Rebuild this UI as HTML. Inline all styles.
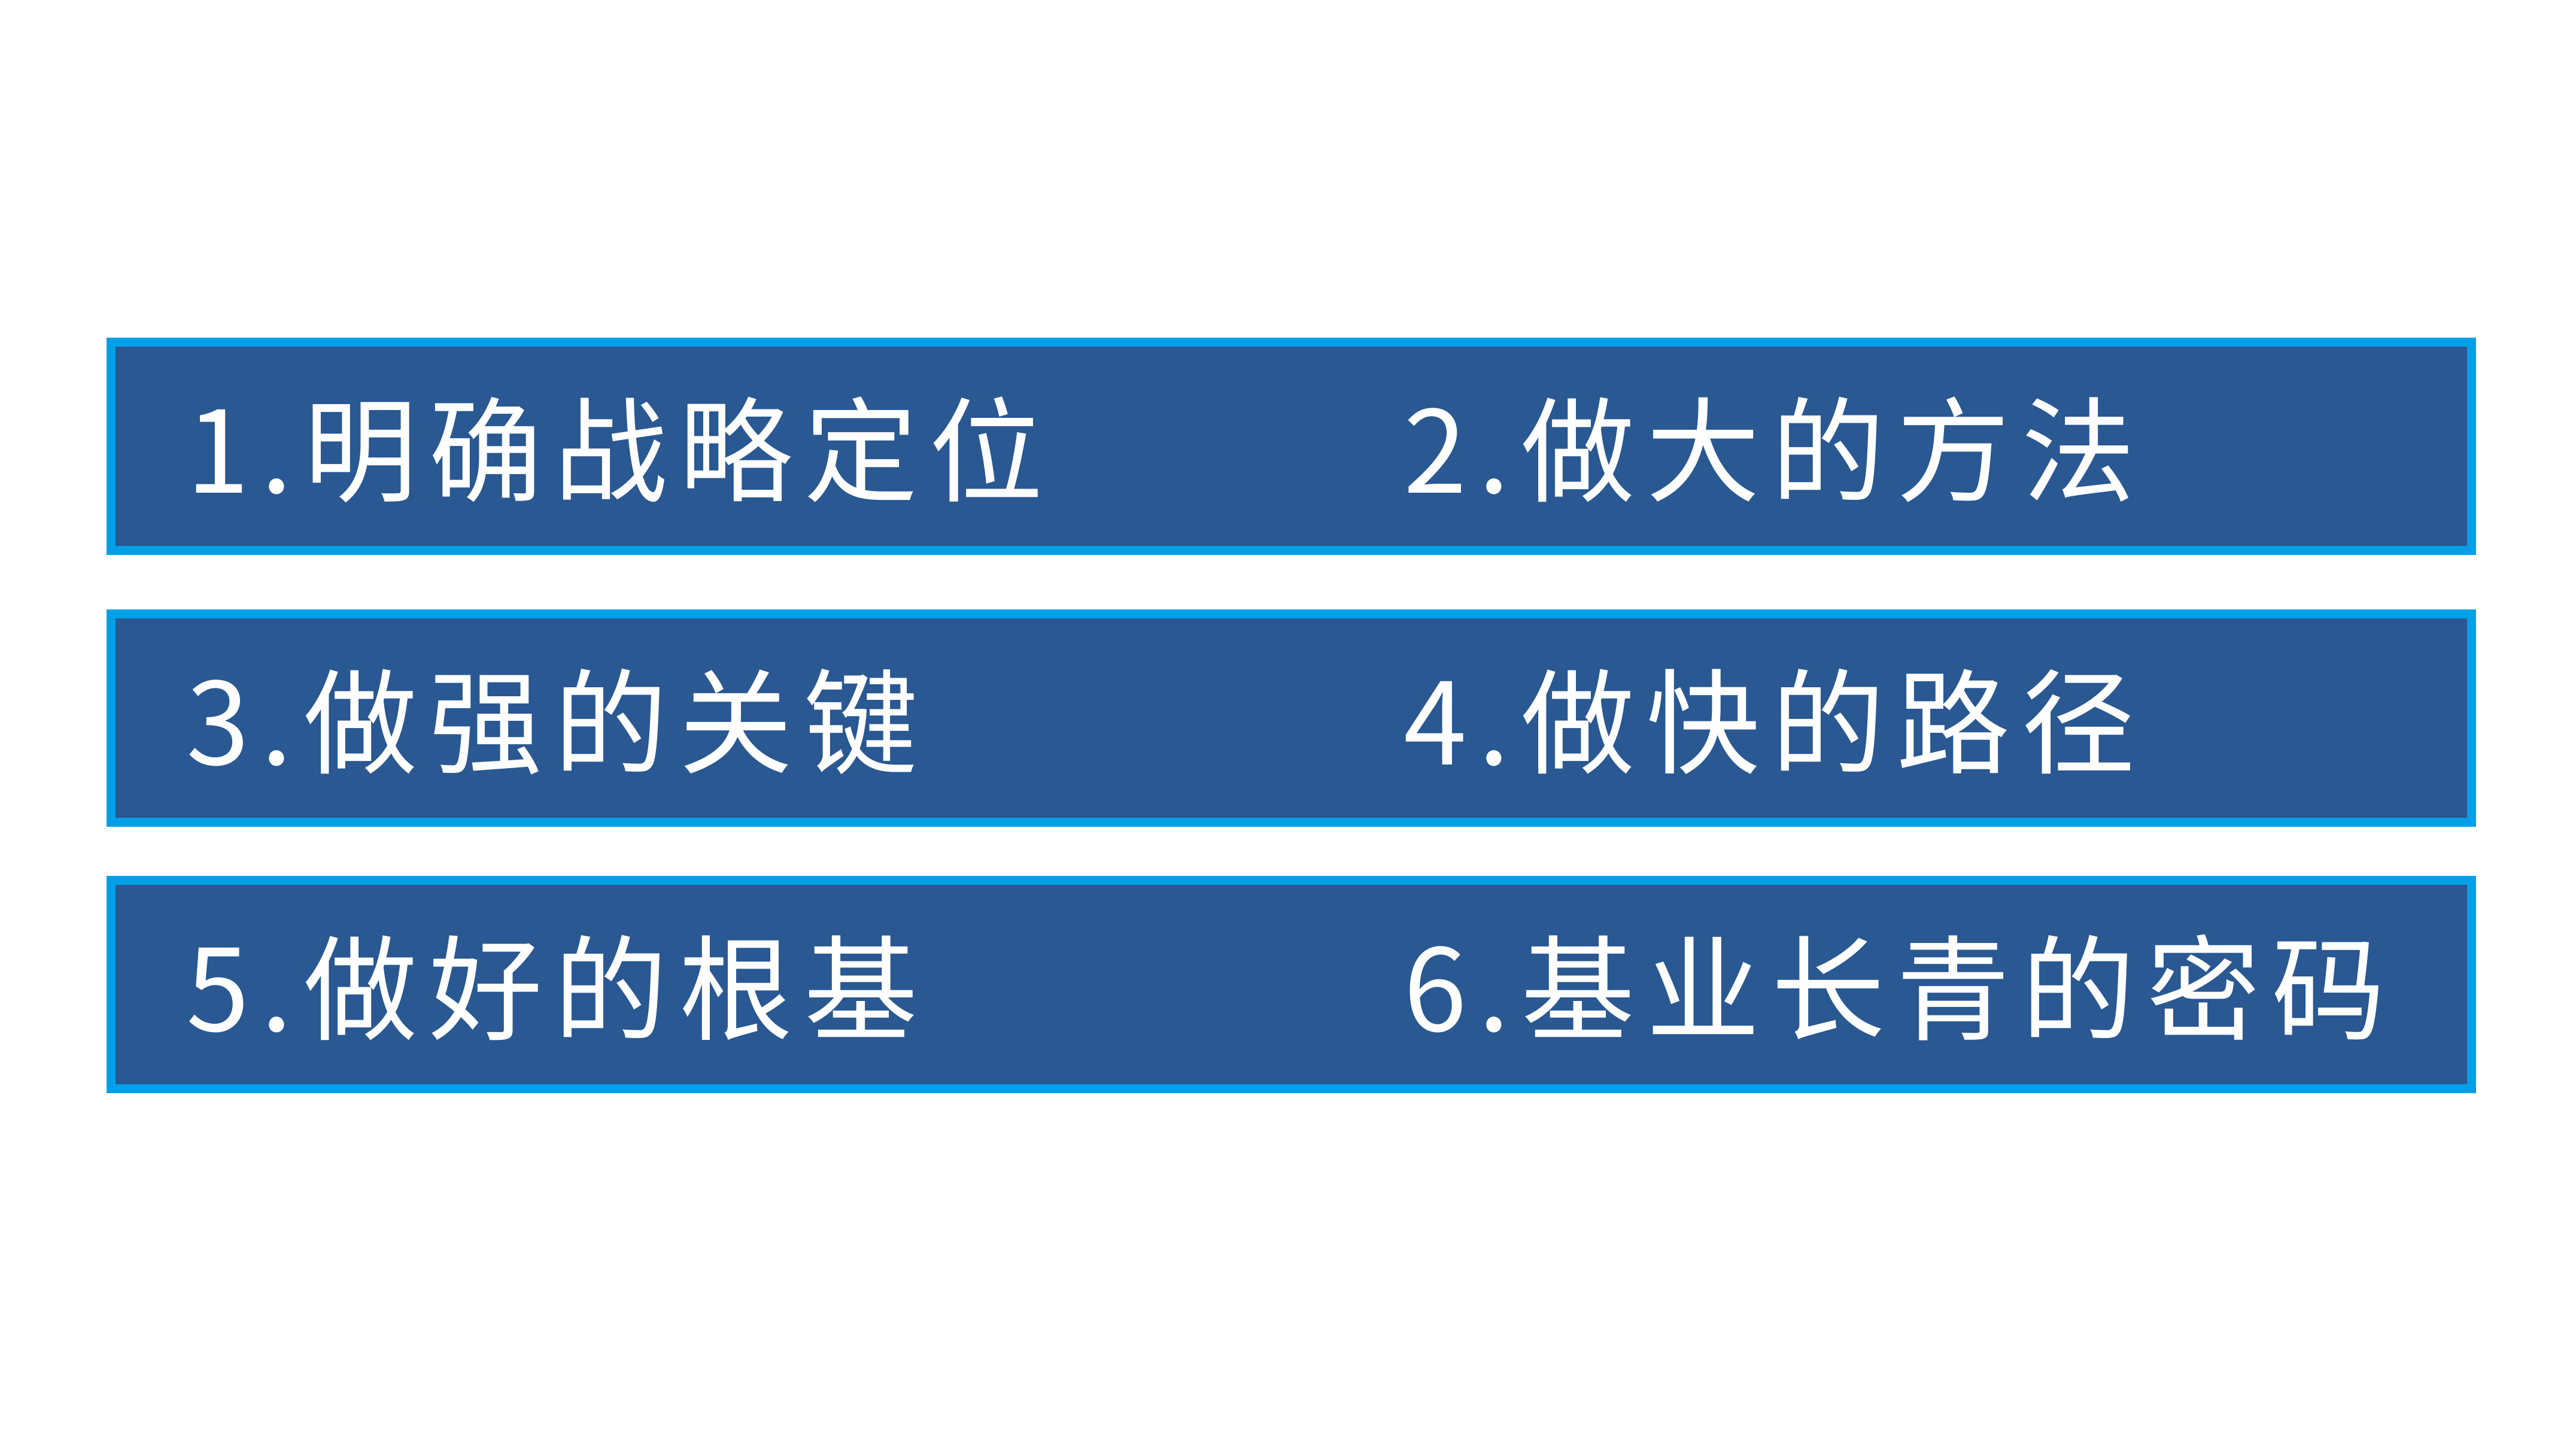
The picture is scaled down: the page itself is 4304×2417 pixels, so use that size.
<!DOCTYPE html>
<html><head><meta charset="utf-8"><style>
html,body{margin:0;padding:0;background:#fff;width:4304px;height:2417px;overflow:hidden}
.b{position:absolute;left:178px;width:3929px;height:333px;border:15px solid #00a0e9;background:#295892}
.t{position:absolute;color:#fff;font-family:"Noto Sans CJK SC","Liberation Sans",sans-serif;font-size:190px;letter-spacing:19px;line-height:1;white-space:nowrap}
</style></head><body>
<div class="b" style="top:564px"></div>
<div class="b" style="top:1018px"></div>
<div class="b" style="top:1463px"></div>
<div class="t" style="left:311px;top:646px">1.明确战略定位</div>
<div class="t" style="left:2345px;top:646px">2.做大的方法</div>
<div class="t" style="left:311px;top:1100px">3.做强的关键</div>
<div class="t" style="left:2345px;top:1100px">4.做快的路径</div>
<div class="t" style="left:311px;top:1545px">5.做好的根基</div>
<div class="t" style="left:2345px;top:1545px">6.基业长青的密码</div>
</body></html>
